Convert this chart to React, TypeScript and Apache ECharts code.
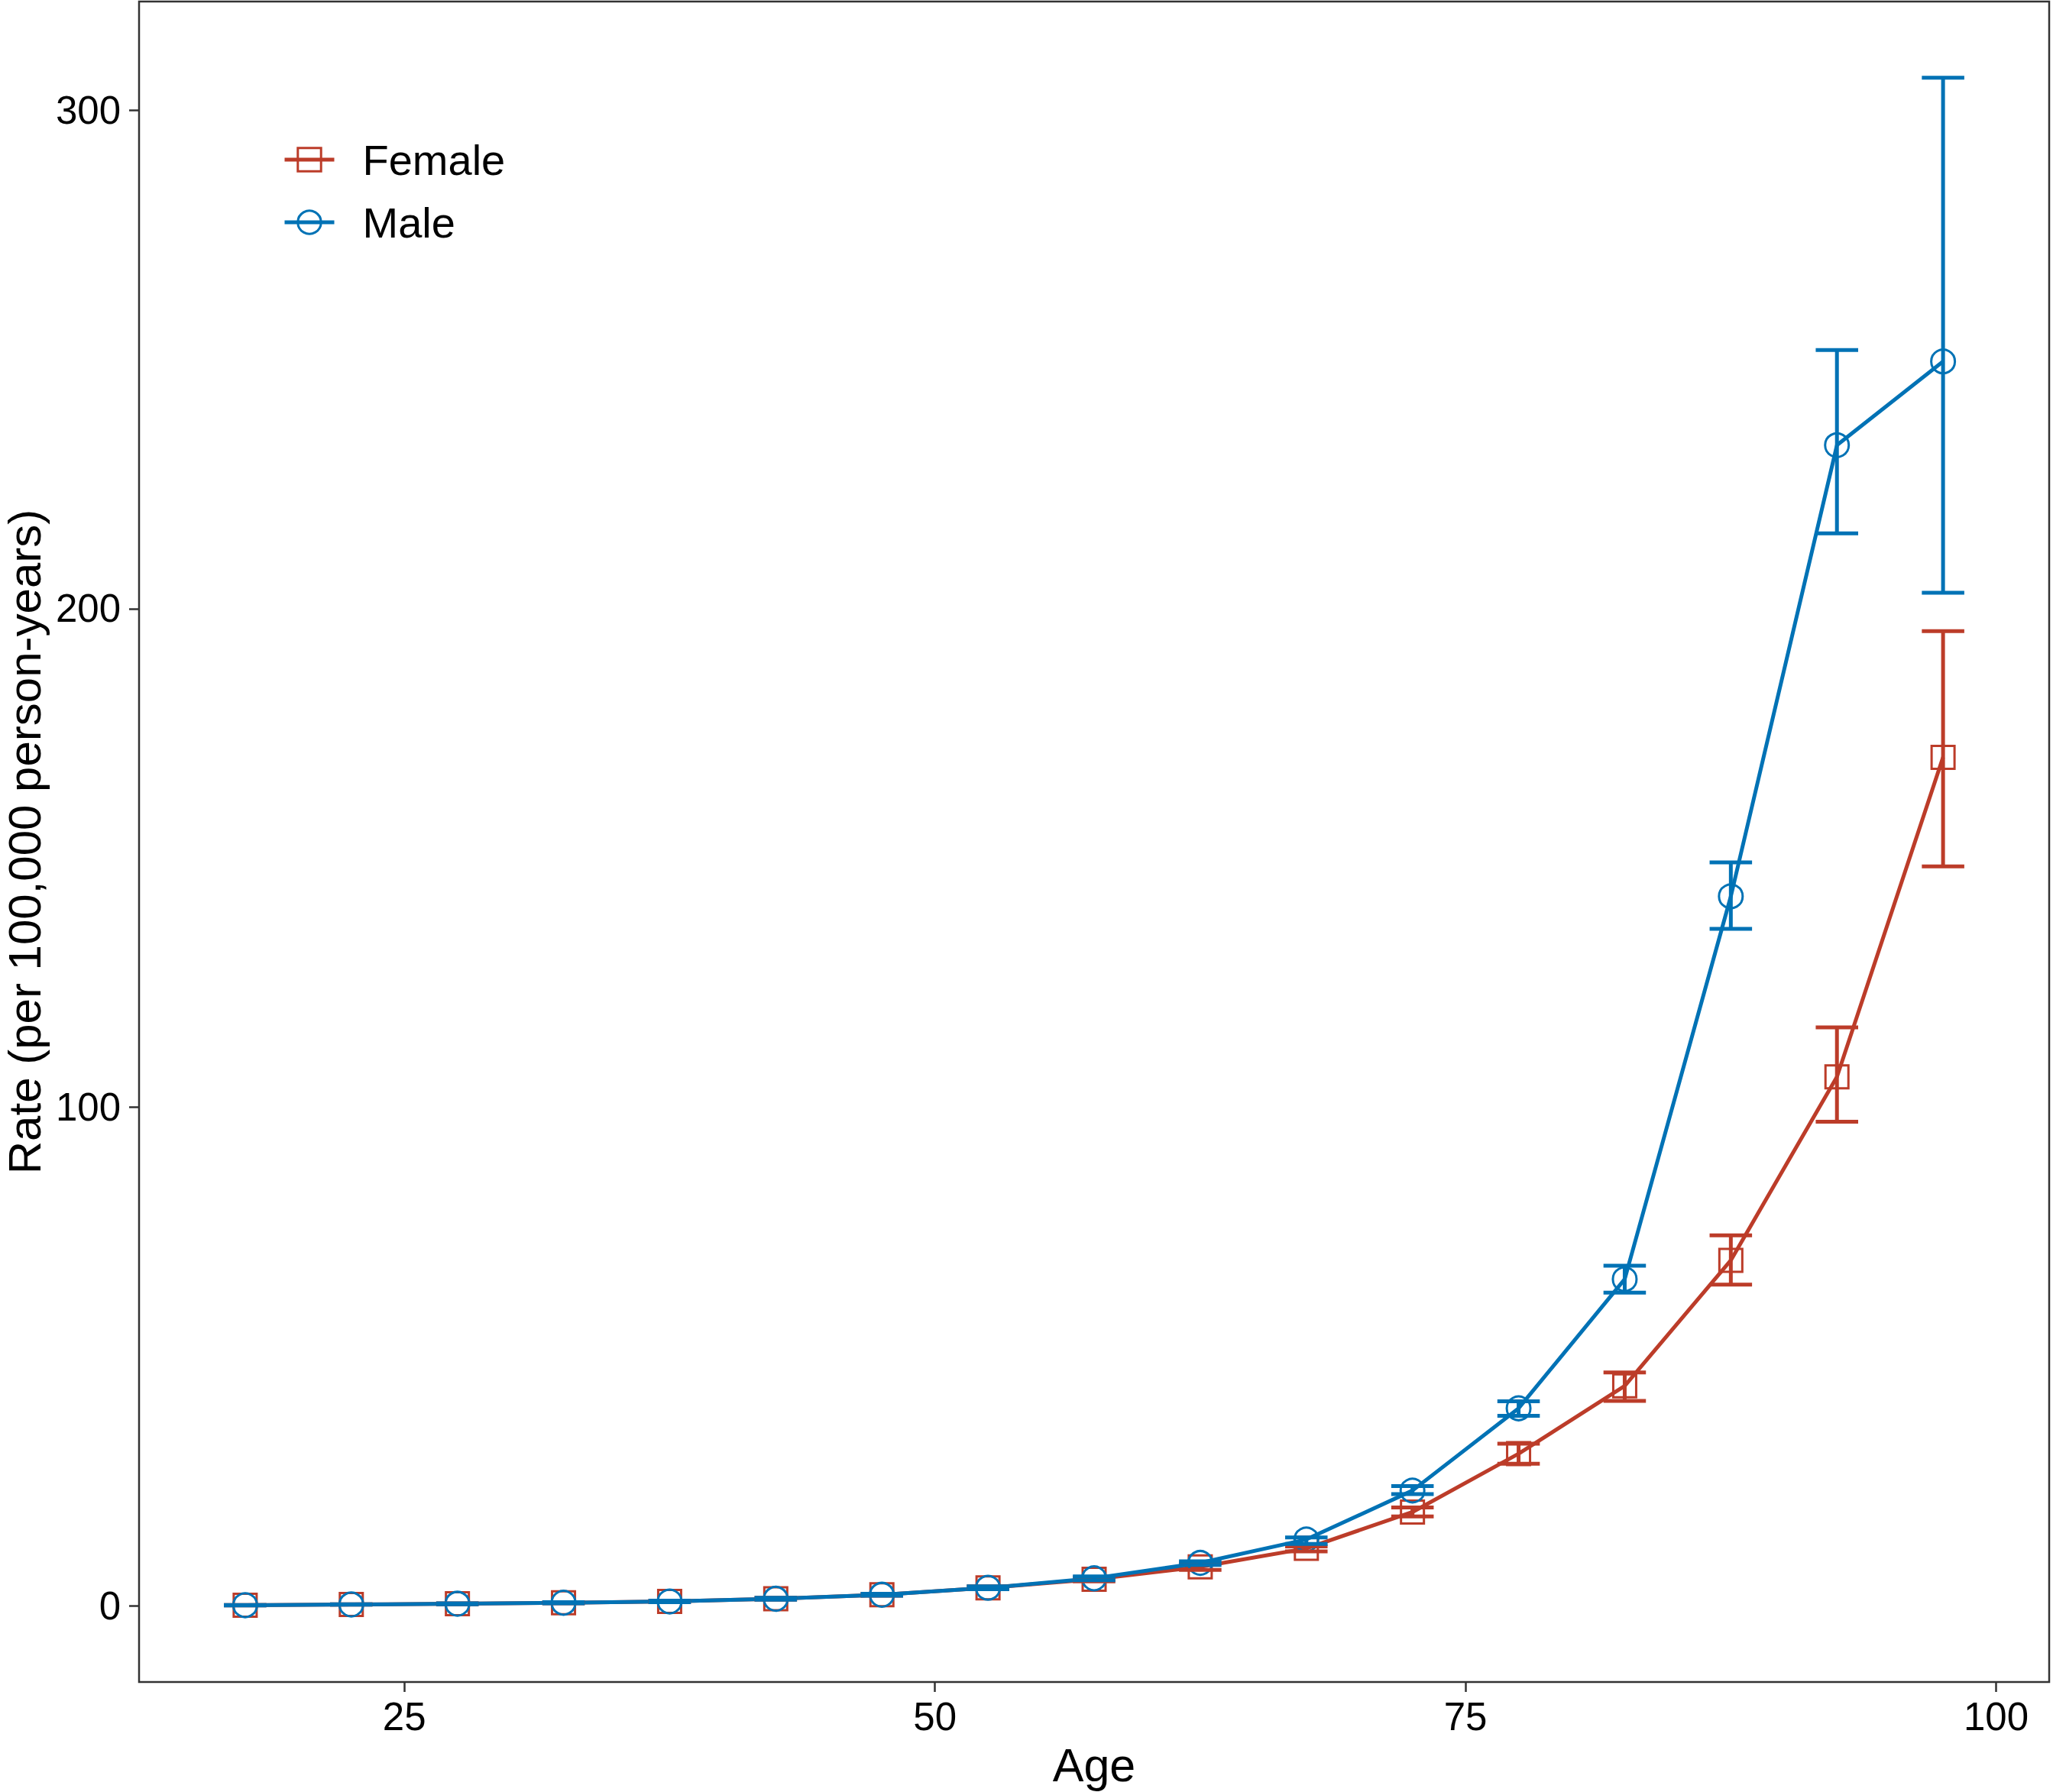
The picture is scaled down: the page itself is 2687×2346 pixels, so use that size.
import React, { useEffect, useRef } from "react";
import * as echarts from "echarts";

const ages = [17.5, 22.5, 27.5, 32.5, 37.5, 42.5, 47.5, 52.5, 57.5, 62.5, 67.5, 72.5, 77.5, 82.5, 87.5, 92.5, 97.5];

const femaleRate = [0.1, 0.25, 0.4, 0.6, 0.85, 1.4, 2.2, 3.6, 5.3, 7.8, 11.5, 18.8, 30.5, 44.1, 69.3, 106.1, 170.2];
const femaleLower = [0.05, 0.2, 0.3, 0.5, 0.7, 1.2, 2.0, 3.3, 4.9, 7.2, 10.9, 17.9, 28.5, 41.1, 64.4, 97.1, 148.3];
const femaleUpper = [0.15, 0.3, 0.5, 0.7, 1.0, 1.6, 2.4, 3.9, 5.7, 8.5, 11.9, 19.7, 32.5, 46.8, 74.3, 116.0, 195.5];

const maleRate = [0.1, 0.25, 0.4, 0.6, 0.85, 1.4, 2.2, 3.6, 5.5, 8.6, 13.3, 23.1, 39.6, 65.5, 142.3, 232.8, 249.6];
const maleLower = [0.05, 0.2, 0.3, 0.5, 0.7, 1.2, 2.0, 3.3, 5.1, 8.2, 12.4, 22.4, 38.1, 62.8, 135.8, 215.1, 203.2];
const maleUpper = [0.15, 0.3, 0.5, 0.7, 1.0, 1.6, 2.4, 3.9, 5.9, 8.9, 13.7, 24.0, 41.0, 68.2, 149.1, 251.9, 306.5];

const xTicks = [25, 50, 75, 100];
const yTicks = [0, 100, 200, 300];

const RED = "#BC3C29";
const BLUE = "#0072B5";
const FONT = "'Liberation Sans', Arial, Helvetica, sans-serif";
const CAP_HALF = 1;
const LW = 5;

function errorSeries(name: string, color: string, lower: number[], upper: number[], z: number) {
  return {
    type: "custom",
    name: name + " CI",
    z,
    silent: true,
    data: ages.map((a, i) => [a, lower[i], upper[i]]),
    encode: { x: 0, y: [1, 2] },
    renderItem: (params: any, api: any) => {
      const x = api.value(0);
      const lo = api.value(1);
      const hi = api.value(2);
      const pLo = api.coord([x, lo]);
      const pHi = api.coord([x, hi]);
      const xl = api.coord([x - CAP_HALF, lo])[0];
      const xr = api.coord([x + CAP_HALF, lo])[0];
      const style = { stroke: color, lineWidth: LW };
      return {
        type: "group",
        children: [
          { type: "line", shape: { x1: pLo[0], y1: pLo[1], x2: pHi[0], y2: pHi[1] }, style },
          { type: "line", shape: { x1: xl, y1: pLo[1], x2: xr, y2: pLo[1] }, style },
          { type: "line", shape: { x1: xl, y1: pHi[1], x2: xr, y2: pHi[1] }, style },
        ],
      };
    },
  };
}

export default function App() {
  const ref = useRef<HTMLDivElement>(null);
  useEffect(() => {
    document.body.style.margin = "0";
    if (!ref.current) return;
    const chart = echarts.init(ref.current, undefined, { renderer: "svg" });
    const axisLabelStyle = { color: "#000", fontSize: 51, fontFamily: FONT };
    chart.setOption({
      animation: false,
      backgroundColor: "#fff",
      textStyle: { fontFamily: FONT },
      grid: {
        left: 182,
        top: 2,
        width: 2500,
        height: 2200,
        containLabel: false,
        outerBoundsMode: "none",
        show: true,
        borderColor: "#333",
        borderWidth: 2.5,
        backgroundColor: "transparent",
      },
      legend: {
        orient: "vertical",
        left: 365,
        top: 176,
        itemWidth: 65,
        itemHeight: 38,
        itemGap: 26,
        lineStyle: { width: LW },
        itemStyle: { borderWidth: 3 },
        textStyle: { fontSize: 56, color: "#000", fontFamily: FONT, lineHeight: 56, padding: [0, 0, 0, 32] },
        data: ["Female", "Male"],
      },
      xAxis: {
        type: "value",
        min: 12.5,
        max: 102.5,
        name: "Age",
        nameLocation: "middle",
        nameGap: 78,
        nameTextStyle: { fontSize: 61, color: "#000", fontFamily: FONT },
        axisLine: { show: false, onZero: false },
        axisTick: { show: true, customValues: xTicks, length: 13, lineStyle: { color: "#333", width: 2.5 } },
        axisLabel: { customValues: xTicks, margin: 20, ...axisLabelStyle },
        splitLine: { show: false },
      },
      yAxis: {
        type: "value",
        min: -15.3,
        max: 321.8,
        name: "Rate (per 100,000 person-years)",
        nameLocation: "middle",
        nameGap: 108,
        nameTextStyle: { fontSize: 60, color: "#000", fontFamily: FONT, lineHeight: 60 },
        axisLine: { show: false, onZero: false },
        axisTick: { show: true, customValues: yTicks, length: 13, lineStyle: { color: "#333", width: 2.5 } },
        axisLabel: { customValues: yTicks, margin: 24, ...axisLabelStyle },
        splitLine: { show: false },
      },
      series: [
        {
          type: "line",
          name: "Female",
          z: 2,
          data: ages.map((a, i) => [a, femaleRate[i]]),
          symbol: "rect",
          symbolSize: 30,
          showSymbol: true,
          lineStyle: { color: RED, width: LW },
          itemStyle: { color: "rgba(255,255,255,0)", borderColor: RED, borderWidth: 3 },
          emphasis: { disabled: true },
        },
        {
          type: "line",
          name: "Male",
          z: 3,
          data: ages.map((a, i) => [a, maleRate[i]]),
          symbol: "circle",
          symbolSize: 31,
          showSymbol: true,
          lineStyle: { color: BLUE, width: LW },
          itemStyle: { color: "rgba(255,255,255,0)", borderColor: BLUE, borderWidth: 3 },
          emphasis: { disabled: true },
        },
        errorSeries("Female", RED, femaleLower, femaleUpper, 4),
        errorSeries("Male", BLUE, maleLower, maleUpper, 5),
      ],
    });
    return () => chart.dispose();
  }, []);
  return <div ref={ref} style={{ width: 2687, height: 2346 }} />;
}
